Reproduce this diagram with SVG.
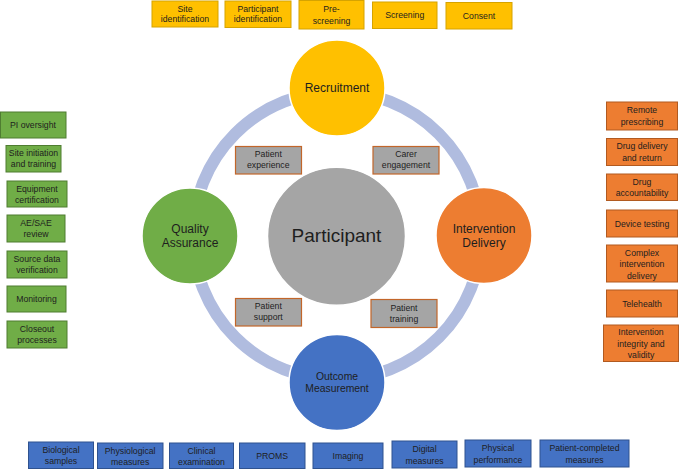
<svg xmlns="http://www.w3.org/2000/svg" width="685" height="469" viewBox="0 0 685 469">
<style>
text{font-family:"Liberation Sans",Arial,sans-serif;fill:#1e1e1e;text-anchor:middle}
.s{font-size:8.7px}
.c{font-size:12px}
.y{fill:#FFC000;stroke:#D6A300;stroke-width:1}
.g{fill:#70AD47;stroke:#4F7D31;stroke-width:1}
.o{fill:#ED7D31;stroke:#B15A20;stroke-width:1}
.b{fill:#4472C4;stroke:#2F528F;stroke-width:1}
.k{fill:#A5A5A5;stroke:#C2662A;stroke-width:1.2}
.circ{stroke:#fff;stroke-width:1.5}
</style>
<rect width="685" height="469" fill="#fff"/>
<g id="connectors">
<circle cx="337" cy="235.5" r="144" fill="none" stroke="#B0BCDF" stroke-width="12"/>
</g>
<g id="participant">
<circle class="circ" cx="336.5" cy="236.3" r="69" fill="#A5A5A5"/>
<text x="336.5" y="242" style="font-size:19px">Participant</text>
</g>
<g id="recruitment">
<circle class="circ" cx="337" cy="88" r="48" fill="#FFC000"/>
<text class="c" x="337" y="92">Recruitment</text>
</g>
<g id="quality-assurance">
<circle class="circ" cx="190" cy="236" r="48" fill="#70AD47"/>
<text class="c" x="190" y="232.7">Quality</text>
<text class="c" x="190" y="246.7">Assurance</text>
</g>
<g id="intervention-delivery">
<circle class="circ" cx="484" cy="235.5" r="48" fill="#ED7D31"/>
<text class="c" x="484" y="232.7">Intervention</text>
<text class="c" x="484" y="246.7">Delivery</text>
</g>
<g id="outcome-measurement">
<circle class="circ" cx="337" cy="382.5" r="48" fill="#4472C4"/>
<text x="337" y="380" style="font-size:10.4px">Outcome</text>
<text x="337" y="392.4" style="font-size:10.4px">Measurement</text>
</g>
<g id="patient-experience"><rect class="k" x="235.5" y="146.5" width="66" height="27.5"/><text class="s" x="268.3" y="157.3">Patient</text><text class="s" x="268.3" y="168.3">experience</text></g>
<g id="carer-engagement"><rect class="k" x="373" y="146.5" width="66" height="27.5"/><text class="s" x="406" y="157.3">Carer</text><text class="s" x="406" y="168.3">engagement</text></g>
<g id="patient-support"><rect class="k" x="235.5" y="298.5" width="66" height="27.5"/><text class="s" x="268.3" y="309.3">Patient</text><text class="s" x="268.3" y="320.3">support</text></g>
<g id="patient-training"><rect class="k" x="371" y="299.5" width="66" height="28"/><text class="s" x="404" y="310.7">Patient</text><text class="s" x="404" y="321.7">training</text></g>

<g id="site-identification"><rect class="y" x="152" y="1" width="66" height="26"/><text class="s" x="185" y="11.5">Site</text><text class="s" x="185" y="22">identification</text></g>
<g id="participant-identification"><rect class="y" x="225" y="1" width="66" height="26.5"/><text class="s" x="258" y="11.5">Participant</text><text class="s" x="258" y="22">identification</text></g>
<g id="pre-screening"><rect class="y" x="299" y="0.5" width="65" height="28.5"/><text class="s" x="331.5" y="12">Pre-</text><text class="s" x="331.5" y="23.5">screening</text></g>
<g id="screening"><rect class="y" x="372.5" y="2" width="64.5" height="26.5"/><text class="s" x="404.7" y="18">Screening</text></g>
<g id="consent"><rect class="y" x="446" y="2.5" width="66" height="26.5"/><text class="s" x="479" y="19">Consent</text></g>

<g id="pi-oversight"><rect class="g" x="0.5" y="112" width="65.5" height="26"/><text class="s" x="33" y="128">PI oversight</text></g>
<g id="site-initiation"><rect class="g" x="6" y="145.5" width="55" height="26.5"/><text class="s" x="33.5" y="156">Site initiation</text><text class="s" x="33.5" y="167">and training</text></g>
<g id="equipment-certification"><rect class="g" x="7" y="181" width="60" height="26"/><text class="s" x="37" y="191.5">Equipment</text><text class="s" x="37" y="202.5">certification</text></g>
<g id="ae-sae-review"><rect class="g" x="7" y="215" width="58" height="27"/><text class="s" x="36" y="225.5">AE/SAE</text><text class="s" x="36" y="237">review</text></g>
<g id="source-data-verification"><rect class="g" x="7" y="251" width="60" height="27"/><text class="s" x="37" y="261.5">Source data</text><text class="s" x="37" y="273">verification</text></g>
<g id="monitoring"><rect class="g" x="7" y="286" width="59" height="26"/><text class="s" x="36.5" y="302">Monitoring</text></g>
<g id="closeout-processes"><rect class="g" x="7" y="321" width="60" height="27"/><text class="s" x="37" y="331.5">Closeout</text><text class="s" x="37" y="343">processes</text></g>

<g id="remote-prescribing"><rect class="o" x="606.5" y="102" width="71" height="28"/><text class="s" x="642" y="113">Remote</text><text class="s" x="642" y="124.5">prescribing</text></g>
<g id="drug-delivery"><rect class="o" x="606.5" y="138.5" width="71" height="27"/><text class="s" x="642" y="149">Drug delivery</text><text class="s" x="642" y="160.5">and return</text></g>
<g id="drug-accountability"><rect class="o" x="606.5" y="174" width="71" height="26.5"/><text class="s" x="642" y="184.5">Drug</text><text class="s" x="642" y="196">accountability</text></g>
<g id="device-testing"><rect class="o" x="606.5" y="210" width="71" height="27"/><text class="s" x="642" y="226.5">Device testing</text></g>
<g id="complex-intervention"><rect class="o" x="606.5" y="245" width="71" height="37"/><text class="s" x="642" y="255.5">Complex</text><text class="s" x="642" y="267">intervention</text><text class="s" x="642" y="278.5">delivery</text></g>
<g id="telehealth"><rect class="o" x="606.5" y="290" width="71" height="27"/><text class="s" x="642" y="306.5">Telehealth</text></g>
<g id="intervention-integrity"><rect class="o" x="603.5" y="325" width="75" height="36.5"/><text class="s" x="641" y="335">Intervention</text><text class="s" x="641" y="346.5">integrity and</text><text class="s" x="641" y="358">validity</text></g>

<g id="biological-samples"><rect class="b" x="28.5" y="442" width="65" height="26.5"/><text class="s" x="61" y="453">Biological</text><text class="s" x="61" y="464">samples</text></g>
<g id="physiological-measures"><rect class="b" x="97.5" y="443" width="65.5" height="25.5"/><text class="s" x="130.2" y="453.5">Physiological</text><text class="s" x="130.2" y="464.5">measures</text></g>
<g id="clinical-examination"><rect class="b" x="169.5" y="443" width="64" height="25.5"/><text class="s" x="201.5" y="453.5">Clinical</text><text class="s" x="201.5" y="464.5">examination</text></g>
<g id="proms"><rect class="b" x="239.5" y="443" width="65.5" height="25.5"/><text class="s" x="272.2" y="459">PROMS</text></g>
<g id="imaging"><rect class="b" x="313" y="443" width="70" height="25.5"/><text class="s" x="348" y="459">Imaging</text></g>
<g id="digital-measures"><rect class="b" x="392" y="441" width="65" height="27"/><text class="s" x="424.5" y="452">Digital</text><text class="s" x="424.5" y="463.5">measures</text></g>
<g id="physical-performance"><rect class="b" x="465" y="440" width="66" height="27"/><text class="s" x="498" y="451">Physical</text><text class="s" x="498" y="462.5">performance</text></g>
<g id="patient-completed-measures"><rect class="b" x="540" y="440" width="89" height="27"/><text class="s" x="584.5" y="451">Patient-completed</text><text class="s" x="584.5" y="462.5">measures</text></g>
</svg>
